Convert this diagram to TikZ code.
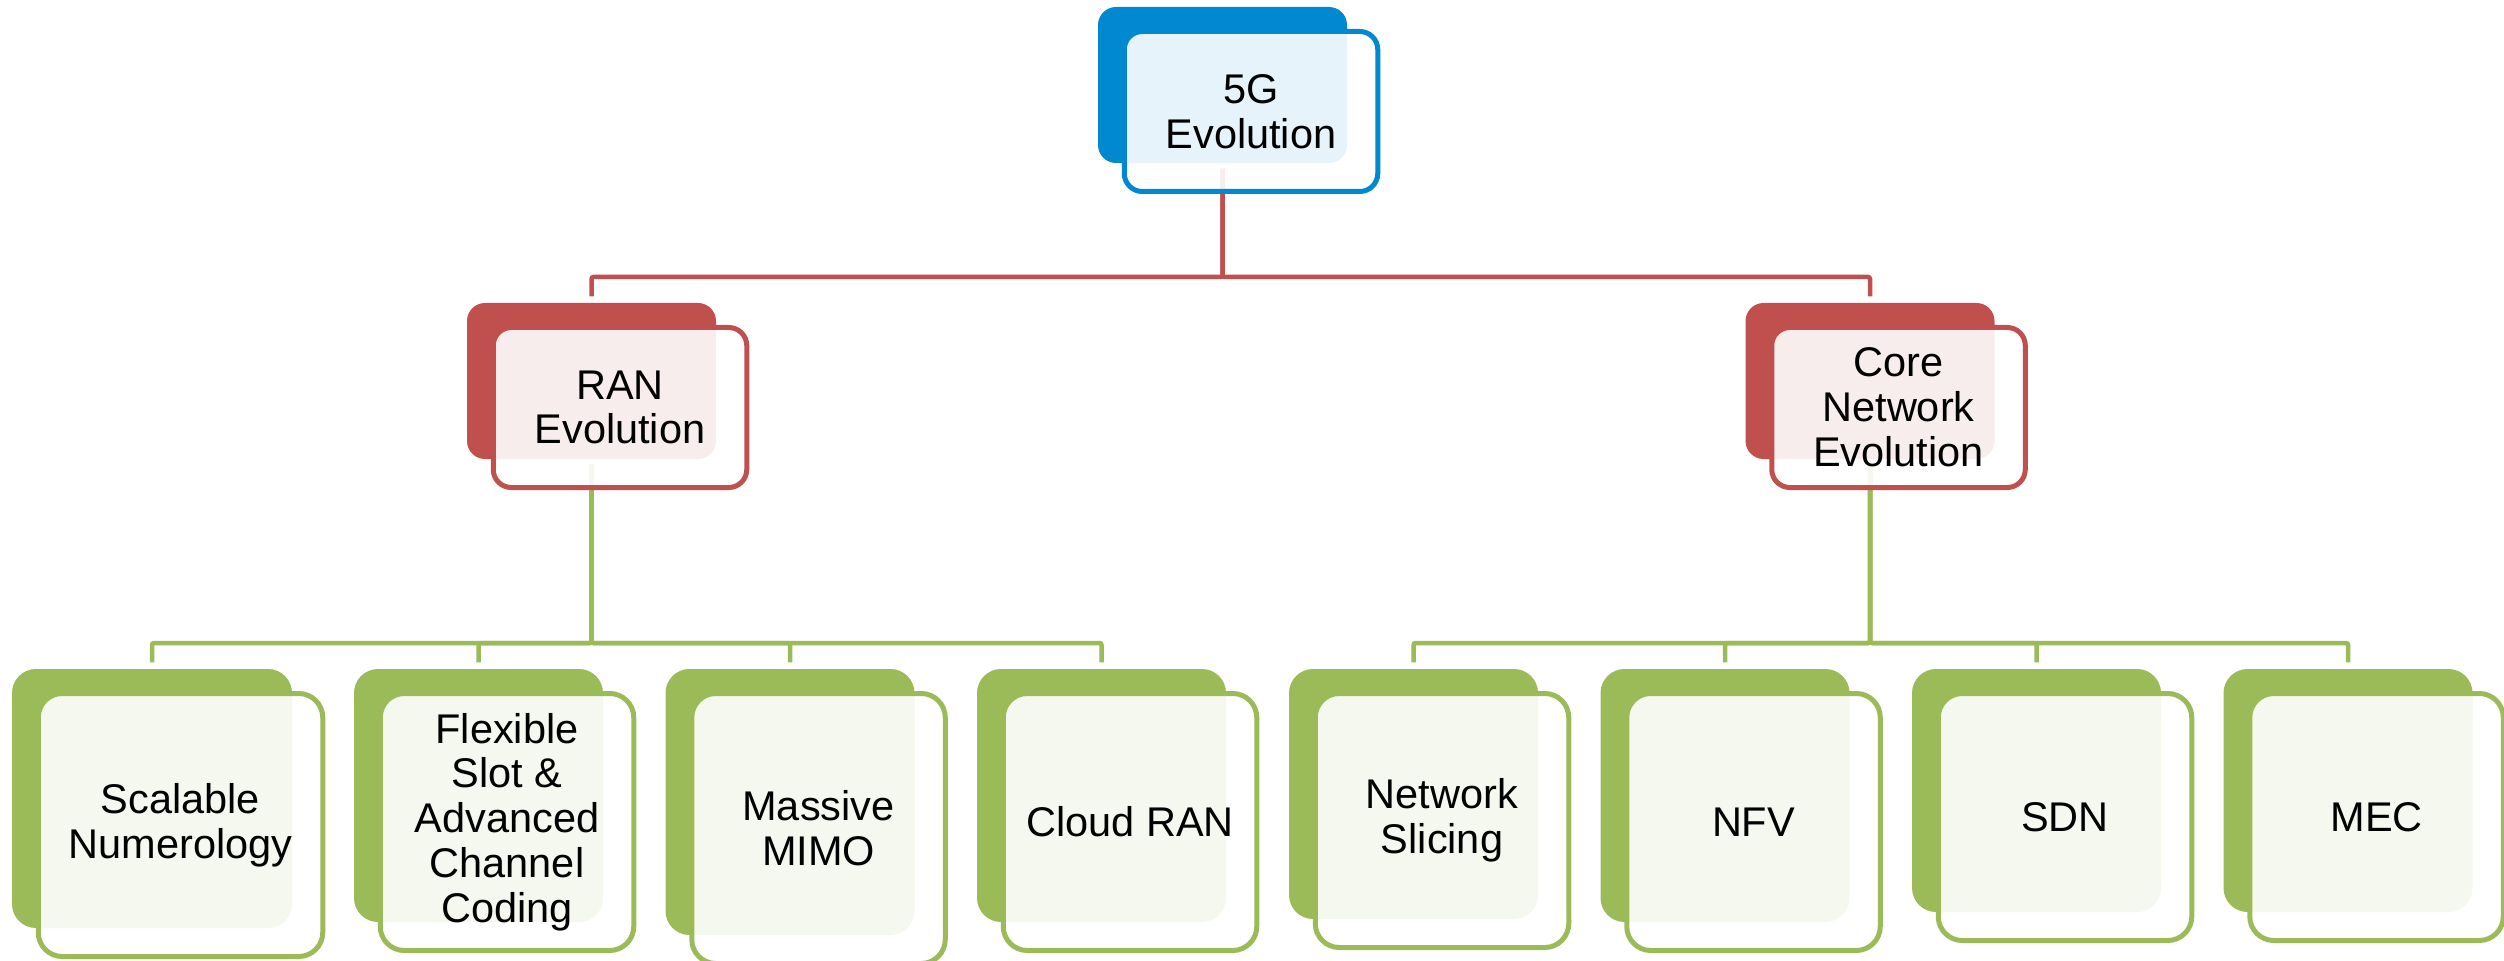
\documentclass[tikz,border=0pt]{standalone}
\usepackage{fontspec}
\setmainfont{Liberation Sans}
\usetikzlibrary{calc,backgrounds}

\definecolor{fiveblue}{HTML}{0089D0}
\definecolor{ranred}{HTML}{C0504D}
\definecolor{leafgreen}{HTML}{9BBB59}

\newdimen\pxu
\pxu=0.01cm

% #1 name, #2 colour, #3 x, #4 y, #5 width, #6 height, #7 level style, #8 label
\newcommand\twobox[8]{%
  \node[backbox,#7,fill=#2,minimum width={#5*0.01cm},minimum height={#6*0.01cm}] (#1) at (#3,#4) {};
  \node[frontbox,#7,draw=#2,minimum width={(#5+4.5)*0.01cm},minimum height={(#6+4)*0.01cm}]
    (#1-t) at ($(#1)+(28.5,26.5)$) {#8};%
}

\begin{document}
\begin{tikzpicture}[x=0.01cm,y=-0.01cm,
  backbox/.style={rectangle,draw=none,inner sep=0pt},
  frontbox/.style={rectangle,inner sep=0pt,line width=5\pxu,fill=white,
    fill opacity=0.9,text opacity=1,align=center,
    font={\fontsize{11.8pt}{12.75pt}\selectfont}},
  upper/.style={rounded corners=18\pxu},
  lower/.style={rounded corners=24\pxu},
  redline/.style={draw=ranred,line width=4.5\pxu,rounded corners=2\pxu,
    shorten <=5\pxu,shorten >=6\pxu},
  greenline/.style={draw=leafgreen,line width=4.5\pxu,rounded corners=2\pxu,
    shorten <=5\pxu,shorten >=6\pxu}]
\useasboundingbox (0,0) rectangle (2504,961);

% root and second level
\twobox{top}{fiveblue}{1222.5}{85}{249}{156}{upper}{5G\\Evolution}
\twobox{ran}{ranred}{591.5}{381}{249}{156}{upper}{RAN\\Evolution}
\twobox{core}{ranred}{1870}{381}{249}{156}{upper}{Core\\Network\\Evolution}

% leaves
\twobox{scal}{leafgreen}{152}{798.5}{280}{259}{lower}{Scalable\\Numerology}
\twobox{flex}{leafgreen}{478.5}{795.5}{249}{253}{lower}{Flexible\\Slot \&\\Advanced\\Channel\\Coding}
\twobox{mimo}{leafgreen}{790}{802}{249}{266}{lower}{Massive\\MIMO}
\twobox{cran}{leafgreen}{1101.5}{795.5}{249}{253}{lower}{Cloud RAN}
\twobox{slic}{leafgreen}{1413.5}{794}{249}{250}{lower}{Network\\Slicing}
\twobox{nfv}{leafgreen}{1725}{795.5}{249}{253}{lower}{NFV}
\twobox{sdn}{leafgreen}{2036.5}{790.5}{249}{243}{lower}{SDN}
\twobox{mec}{leafgreen}{2348}{790.5}{249}{243}{lower}{MEC}

% bus levels
\coordinate (busR) at (0,277);
\coordinate (busG) at (0,643);

\begin{scope}[on background layer]
  \foreach \c in {ran,core}
    \draw[redline] (top.south) -- (top.south |- busR) -| (\c.north);
  \foreach \c in {scal,flex,mimo,cran}
    \draw[greenline] (ran.south) -- (ran.south |- busG) -| (\c.north);
  \foreach \c in {slic,nfv,sdn,mec}
    \draw[greenline] (core.south) -- (core.south |- busG) -| (\c.north);
\end{scope}
\end{tikzpicture}
\end{document}
